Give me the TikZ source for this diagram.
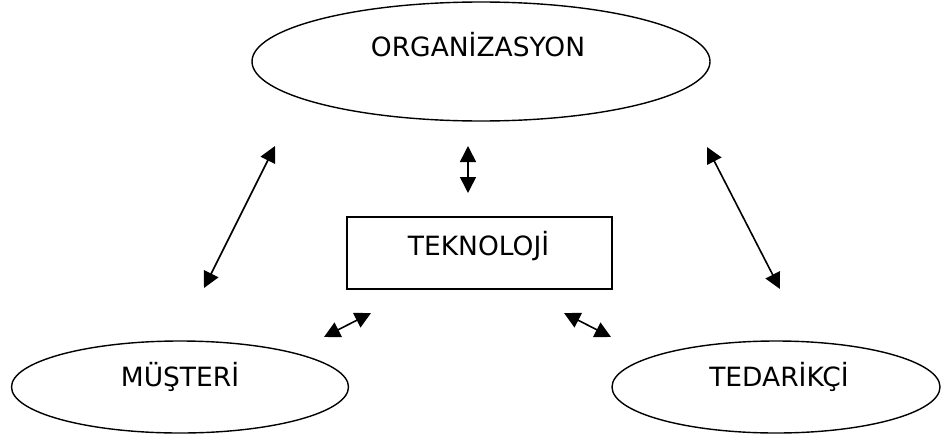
\documentclass[tikz,border=0pt]{standalone}
\usepackage{fontspec}
\setmainfont{DejaVu Sans}
\usetikzlibrary{positioning,arrows.meta,shapes.geometric,calc}

\begin{document}
\begin{tikzpicture}[x=1pt, y=-1pt, line width=1.4pt,
    yazi/.style={font=\fontsize{26.5}{31}\selectfont, text height=19.4pt, text depth=0pt, inner sep=0pt},
    oval/.style={draw, ellipse, inner sep=0pt},
    kutu/.style={draw, rectangle, inner sep=0pt},
    ok/.style={{Triangle[length=16pt,width=16pt]}-{Triangle[length=16pt,width=16pt]}, line width=1.6pt}]
  \useasboundingbox (0,0) rectangle (941,439);

  % Ellipses and the technology box
  \node[oval, minimum width=458, minimum height=119] (org) at (481,61.5) {};
  \node[oval, minimum width=337, minimum height=92] (mus) at (180,387) {};
  \node[oval, minimum width=328, minimum height=92] (ted) at (776,387) {};
  \node[kutu, minimum width=265, minimum height=72] (tek) at (479.5,253) {};

  % Texts, a little above the centres
  \node[yazi] (orgyazi) at ($(org.center)+(-3,-15)$) {ORGANİZASYON};
  \node[yazi] (musyazi) at ($(mus.center)+(0,-10)$) {MÜŞTERİ};
  \node[yazi] (tedyazi) at ($(ted.center)+(3,-10)$) {TEDARİKÇİ};
  \node[yazi] (tekyazi) at ($(tek.center)+(-1,-7)$) {TEKNOLOJİ};

  % Free arrow ends
  \coordinate (m1) at (204,288);
  \coordinate (o1) at (275,146);
  \coordinate (t1) at (468,193);
  \coordinate (o2) at (468,146);
  \coordinate (d1) at (780,289);
  \coordinate (o3) at (707,147);
  \coordinate (m2) at (324,337);
  \coordinate (t2) at (371,313);
  \coordinate (t3) at (564,313);
  \coordinate (d2) at (611,337);

  % Double arrows
  \foreach \a/\b in {m1/o1, t1/o2, d1/o3, m2/t2, t3/d2}
    \draw[ok] (\a) -- (\b);
\end{tikzpicture}
\end{document}
